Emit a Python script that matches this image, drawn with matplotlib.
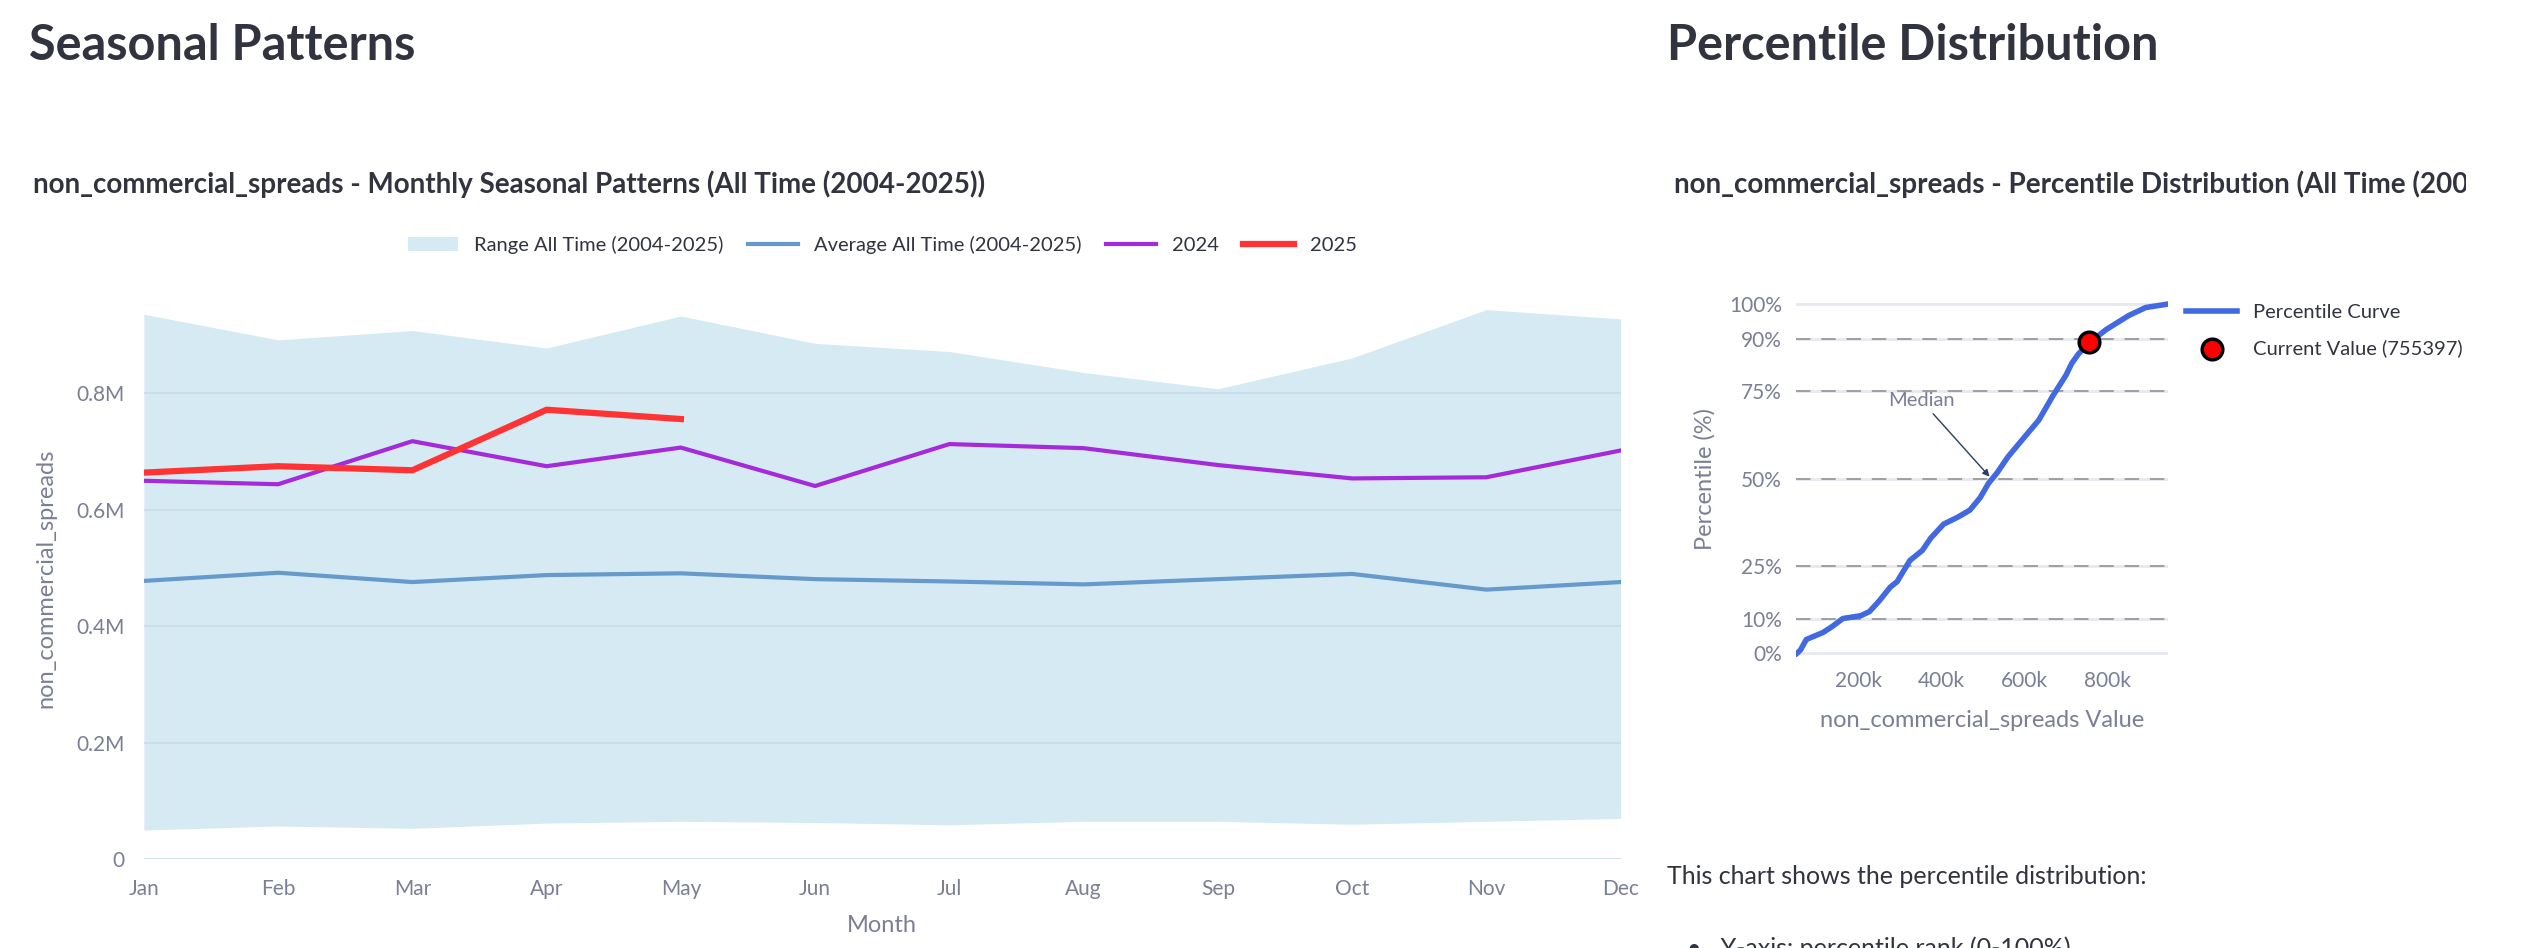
import numpy as np
import matplotlib
matplotlib.use("Agg")
import matplotlib.pyplot as plt
from matplotlib.transforms import Bbox, TransformedBbox
from matplotlib.ticker import FuncFormatter

plt.rcParams['font.family'] = ['Lato', 'DejaVu Sans']

months = ['Jan', 'Feb', 'Mar', 'Apr', 'May', 'Jun', 'Jul', 'Aug', 'Sep', 'Oct', 'Nov', 'Dec']
range_hi = [0.936, 0.892, 0.908, 0.878, 0.933, 0.886, 0.872, 0.836, 0.808, 0.861, 0.944, 0.928]
range_lo = [0.050, 0.057, 0.053, 0.062, 0.065, 0.063, 0.059, 0.065, 0.065, 0.060, 0.065, 0.070]
avg = [0.478, 0.492, 0.476, 0.488, 0.491, 0.481, 0.477, 0.472, 0.481, 0.490, 0.463, 0.476]
y2024 = [0.650, 0.644, 0.718, 0.675, 0.707, 0.641, 0.713, 0.706, 0.677, 0.654, 0.656, 0.702]
y2025 = [0.664, 0.675, 0.668, 0.772, 0.756]

# percentile curve (value in k, percentile)
pct_x = [52, 61, 75, 115, 136, 163, 206, 227, 250, 277, 293, 324, 354, 374, 405, 439, 468,
         493, 513, 533, 560, 600, 634, 668, 699, 713, 729, 756, 796, 850, 891, 945]
pct_y = [0, 1, 4, 6, 7.6, 10, 10.8, 12, 15, 19, 20.5, 26.6, 29.5, 33, 37, 39, 41,
         44.6, 48.7, 51.6, 56.3, 62, 66.8, 73.8, 79.6, 83, 85.7, 89, 92.7, 96.7, 99, 100]
current_value = 755397
current_pct = 89
pct_levels = [0, 10, 25, 50, 75, 90, 100]

tick_c = '#7a7f95'
grid_c = '#e6e9f0'

fig = plt.figure(figsize=(25.33, 9.48), dpi=100)

fig.text(0.0115, 0.952, 'Seasonal Patterns', fontsize=35, fontweight='bold', color='#31333f', va='center')
fig.text(0.658, 0.952, 'Percentile Distribution', fontsize=35, fontweight='bold', color='#31333f', va='center')

# ---- seasonal chart
ax = fig.add_axes([0.0568, 0.0937, 0.583, 0.592])
x = np.arange(12)
ax.fill_between(x, [v * 1e6 for v in range_lo], [v * 1e6 for v in range_hi],
                color='#d6eaf3', lw=0, label='Range All Time (2004-2025)')
ax.plot(x, [v * 1e6 for v in avg], color='#6699cc', lw=3, label='Average All Time (2004-2025)')
ax.plot(x, [v * 1e6 for v in y2024], color='#a52adb', lw=3, label='2024')
ax.plot(np.arange(len(y2025)), [v * 1e6 for v in y2025], color='#ff3333', lw=4.5, label='2025')
ax.set_xlim(0, 11)
ax.set_ylim(0, 0.964e6)
ax.set_yticks([0, 0.2e6, 0.4e6, 0.6e6, 0.8e6])
ax.yaxis.set_major_formatter(FuncFormatter(lambda v, p: '0' if v == 0 else f'{v/1e6:.1f}M'))
ax.set_xticks(x)
ax.set_xticklabels(months)
ax.grid(axis='y', color='#c9dde8', lw=1.2)
ax.set_axisbelow(False)
for s in ax.spines.values():
    s.set_visible(False)
ax.tick_params(length=0, labelsize=15, colors=tick_c, pad=14)
ax.set_xlabel('Month', fontsize=17, color=tick_c, labelpad=12)
ax.set_ylabel('non_commercial_spreads', fontsize=17, color=tick_c, labelpad=14)
fig.text(0.013, 0.806, 'non_commercial_spreads - Monthly Seasonal Patterns (All Time (2004-2025))',
         fontsize=20, fontweight='bold', color='#31333f', va='center')
ax.legend(loc='center', bbox_to_anchor=(0.5, 1.095), ncol=4, frameon=False, fontsize=14.5,
          handlelength=2.5, columnspacing=1.2, labelcolor='#31333f')

# ---- percentile chart
ax2 = fig.add_axes([0.709, 0.307, 0.147, 0.376])
for lv in pct_levels:
    ax2.axhline(lv, color=grid_c, lw=2, zorder=0)
    if lv not in (0, 100):
        ax2.axhline(lv, color='#999999', lw=1.3, ls=(0, (8, 6)), zorder=1)
ax2.plot([v * 1e3 for v in pct_x], pct_y, color='#4169e1', lw=4, label='Percentile Curve', zorder=3)
ax2.scatter([current_value], [current_pct], s=220, color='red', edgecolor='black', lw=2.5,
            zorder=4, label=f'Current Value ({current_value})')
ax2.annotate('Median', xy=(520e3, 50), xytext=(351e3, 70), fontsize=14.5, color=tick_c,
             ha='center', va='bottom',
             arrowprops=dict(arrowstyle='-|>', color='#2a3f5f', lw=1, mutation_scale=10))
ax2.set_xlim(50e3, 945e3)
ax2.set_ylim(-1, 101)
ax2.set_yticks(pct_levels)
ax2.set_yticklabels([f'{v}%' for v in pct_levels])
ax2.set_xticks([200e3, 400e3, 600e3, 800e3])
ax2.set_xticklabels(['200k', '400k', '600k', '800k'])
for s in ax2.spines.values():
    s.set_visible(False)
ax2.tick_params(length=0, labelsize=15, colors=tick_c, pad=10)
ax2.set_xlabel('non_commercial_spreads Value', fontsize=17, color=tick_c, labelpad=14)
ax2.set_ylabel('Percentile (%)', fontsize=17, color=tick_c, labelpad=10)
ax2.legend(loc='upper left', bbox_to_anchor=(1.0, 1.04), frameon=False, fontsize=14.5,
           handlelength=2.5, labelspacing=0.9, labelcolor='#31333f')

clip = TransformedBbox(Bbox([[0, 0], [0.9735, 1]]), fig.transFigure)
t = fig.text(0.661, 0.806, 'non_commercial_spreads - Percentile Distribution (All Time (2004-2025))',
             fontsize=20, fontweight='bold', color='#31333f', va='center', clip_on=True)
t.set_clip_box(clip)

fig.text(0.658, 0.075, 'This chart shows the percentile distribution:', fontsize=18,
         color='#31333f', va='center')
fig.text(0.666, 0.0, '•   Y-axis: percentile rank (0-100%)', fontsize=18,
         color='#31333f', va='center')

fig.savefig('out.png', dpi=100)
